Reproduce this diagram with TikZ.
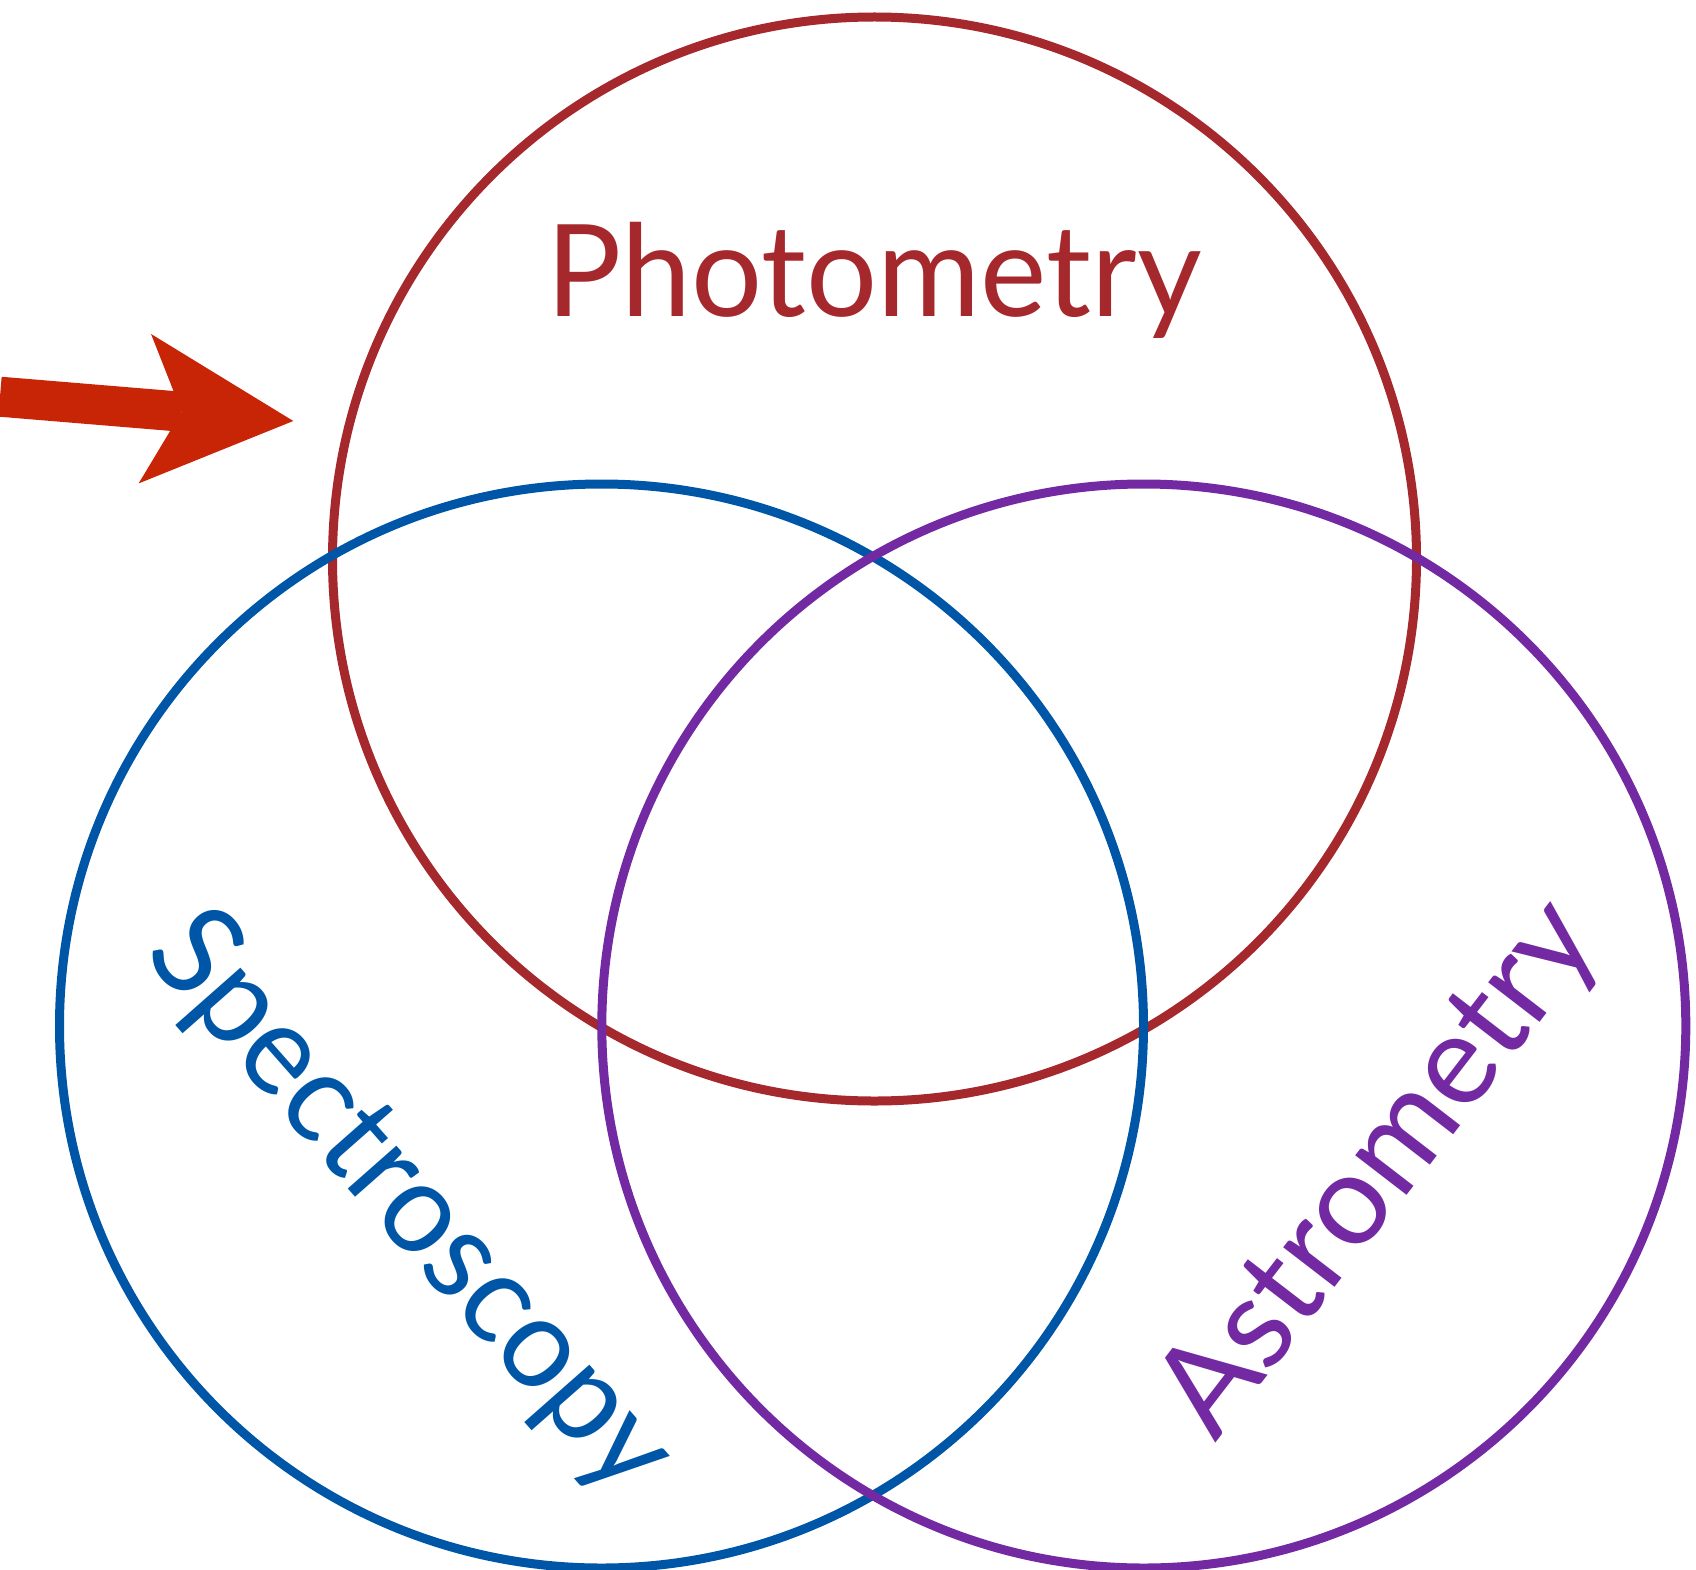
\documentclass[tikz,border=0pt]{standalone}
\usepackage{fontspec}
\setmainfont{Lato}
\usetikzlibrary{positioning, arrows.meta}
\definecolor{PhotoRed}{HTML}{A5282C}
\definecolor{SpecBlue}{HTML}{0056A6}
\definecolor{AstroPurple}{HTML}{7229A2}
\definecolor{ArrowRed}{HTML}{C82506}
\tikzset{
    venn/.style={circle, draw, line width=9pt, minimum size=1084pt, inner sep=0pt},
    setlabel/.style={font=\fontsize{128}{128}\selectfont, inner sep=0pt, anchor=base},
    pointer/.style={line width=40pt, color=ArrowRed, -{Stealth[length=149pt, width=150pt, inset=37pt, line width=0pt]}},
}
\begin{document}
\begin{tikzpicture}[x=1pt, y=-1pt]
    \useasboundingbox (0,0) rectangle (1696,1570);

    % I tre insiemi
    \node[venn, draw=PhotoRed] (photometry) at (874.5,559) {};
    \node[venn, draw=SpecBlue] (spectroscopy) at (601.5,1026) {};
    \node[venn, draw=AstroPurple] (astrometry) at (1143.8,1026) {};

    % Etichette
    \node[setlabel, text=PhotoRed, xscale=0.98] (photometry label) at (874,316) {Photometry};
    \node[setlabel, text=SpecBlue, rotate=-48.6, xscale=0.96] (spectroscopy label) at (382.4,1227.6) {Spectroscopy};
    \node[setlabel, text=AstroPurple, rotate=52.4] (astrometry label) at (1409,1192) {Astrometry};

    % Freccia verso la fotometria
    \coordinate (tail) at (0,396.7);
    \coordinate (head) at (293.3,421);
    \draw[pointer] (tail) -- (head);

\end{tikzpicture}
\end{document}
